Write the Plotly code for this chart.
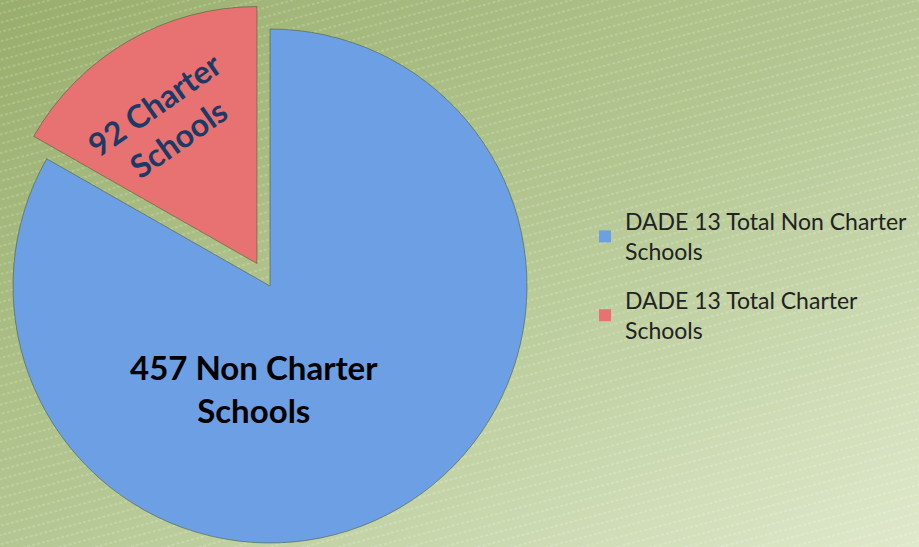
import base64
import math

import plotly.graph_objects as go

# data
labels = ["DADE 13 Total Non Charter Schools", "DADE 13 Total Charter Schools"]
legend_names = ["DADE 13 Total Non Charter<br>Schools", "DADE 13 Total Charter<br>Schools"]
values = [457, 92]
slice_names = ["Non Charter<br>Schools", "Charter<br>Schools"]
colors = ["#6c9fe4", "#e87272"]

W, H = 919, 547
R = 257               # pie radius, px
CX, CY = 270, 286     # centre of the unpulled pie, px from top-left
PULL = 26             # how far the charter slice is pulled out, px


def domain_for(cx, cy, r):
    return dict(x=[max(0, (cx - r) / W), min(1, (cx + r) / W)],
                y=[max(0, (H - cy - r) / H), min(1, (H - cy + r) / H)])


# background: diagonal green gradient + faint dashed stripes
svg = f'''<svg xmlns="http://www.w3.org/2000/svg" width="{W}" height="{H}">
<defs>
<linearGradient id="g" x1="0" y1="0" x2="1" y2="1">
<stop offset="0" stop-color="#98ae6c"/>
<stop offset="0.5" stop-color="#b4c792"/>
<stop offset="1" stop-color="#dfe9cb"/>
</linearGradient>
<pattern id="p" width="40" height="9" patternUnits="userSpaceOnUse" patternTransform="rotate(-15)">
<line x1="0" y1="4" x2="40" y2="4" stroke="#ffffff" stroke-opacity="0.35" stroke-width="1" stroke-dasharray="3 2"/>
</pattern>
</defs>
<rect width="{W}" height="{H}" fill="url(#g)"/>
<rect width="{W}" height="{H}" fill="url(#p)"/>
</svg>'''
bg = "data:image/svg+xml;base64," + base64.b64encode(svg.encode()).decode()

fig = go.Figure()

# the big slice (charter slice left empty here)
fig.add_trace(go.Pie(
    labels=labels, values=values, sort=False, direction="clockwise", rotation=0,
    marker=dict(colors=[colors[0], "rgba(0,0,0,0)"],
                line=dict(color=["rgba(70,90,50,0.55)", "rgba(0,0,0,0)"], width=[1, 0])),
    textinfo="none", hoverinfo="label+value", showlegend=False,
    domain=domain_for(CX, CY, R)))

# the charter slice, drawn pulled out along its bisector
share = values[1] / sum(values)
mid = math.radians(90 + share * 180)
dx, dy = PULL * math.cos(mid), -PULL * math.sin(mid)
fig.add_trace(go.Pie(
    labels=labels, values=values, sort=False, direction="clockwise", rotation=0,
    marker=dict(colors=["rgba(0,0,0,0)", colors[1]],
                line=dict(color=["rgba(0,0,0,0)", "rgba(70,90,50,0.55)"], width=[0, 1])),
    textinfo="none", hoverinfo="label+value", showlegend=False,
    domain=domain_for(CX + dx, CY + dy, R)))

# legend entries
for i, (name, c) in enumerate(zip(legend_names, colors)):
    fig.add_trace(go.Scatter(x=[None], y=[None], mode="markers", name=name,
                             legendgroup=f"g{i}",
                             marker=dict(symbol="square", size=10, color=c)))

# slice labels
fig.add_annotation(x=254 / W, y=1 - 388 / H, xref="paper", yref="paper",
                   xanchor="center", yanchor="middle",
                   text=f"<b>{values[0]} {slice_names[0]}</b>", showarrow=False,
                   font=dict(family="Lato", size=33, color="#000000"))
fig.add_annotation(x=166 / W, y=1 - 122 / H, xref="paper", yref="paper",
                   xanchor="center", yanchor="middle",
                   text=f"<b>{values[1]} {slice_names[1]}</b>", showarrow=False,
                   textangle=-35,
                   font=dict(family="Lato", size=32, color="#1c3a66"))

fig.update_xaxes(visible=False)
fig.update_yaxes(visible=False)
fig.update_layout(
    width=W, height=H, margin=dict(l=0, r=0, t=0, b=0),
    paper_bgcolor="rgba(0,0,0,0)", plot_bgcolor="rgba(0,0,0,0)",
    images=[dict(source=bg, xref="paper", yref="paper", x=0, y=1, sizex=1, sizey=1,
                 sizing="stretch", xanchor="left", yanchor="top", layer="below")],
    legend=dict(x=585 / W, y=1 - 200 / H, xanchor="left", yanchor="top",
                font=dict(family="Lato", size=23, color="#222222"),
                bgcolor="rgba(0,0,0,0)", tracegroupgap=16, itemsizing="constant"),
)
fig.write_html("out.html", config={"displayModeBar": False},
               post_script="document.body.style.margin='0';")
